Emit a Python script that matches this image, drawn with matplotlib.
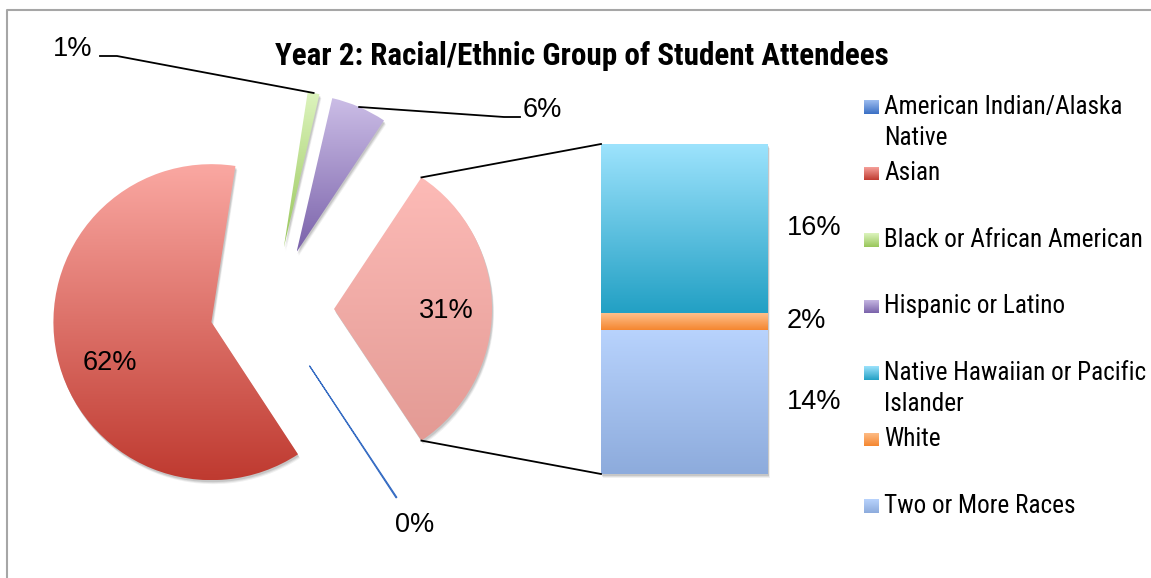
import textwrap
import numpy as np
import matplotlib
matplotlib.use("Agg")
import matplotlib.pyplot as plt
from matplotlib.patches import Wedge, Rectangle

# ---------------- data ----------------
title = "Year 2: Racial/Ethnic Group of Student Attendees"
pie_categories = ["American Indian/Alaska Native", "Asian",
                  "Black or African American", "Hispanic or Latino", "Other"]
bar_categories = ["Native Hawaiian or Pacific Islander", "White", "Two or More Races"]
bar_values = [16.0, 1.6, 13.7]                 # percent of all attendees
pie_values = [0.1, 61.6, 1.2, 5.7, sum(bar_values)]
legend_categories = pie_categories[:4] + bar_categories

# gradient colours (top, bottom)
colors = {
    "American Indian/Alaska Native": ("#9DBDF0", "#3A6FC4"),
    "Asian": ("#FAA8A2", "#BF3A30"),
    "Black or African American": ("#DDF4BE", "#98C65A"),
    "Hispanic or Latino": ("#CBBDE6", "#7A62AA"),
    "Other": ("#FDBBB7", "#E39A94"),
    "Native Hawaiian or Pacific Islander": ("#9DE3FD", "#22A0C4"),
    "White": ("#FEC08C", "#F5862F"),
    "Two or More Races": ("#B8D3FD", "#8DABDC"),
}

W, H = 1151, 578
DPI = 100
FONT = ["Liberation Sans", "DejaVu Sans"]
NARROW = ["Roboto Condensed", "Liberation Sans", "DejaVu Sans"]


def Y(y):
    return H - y


fig = plt.figure(figsize=(W / DPI, H / DPI), dpi=DPI)
ax = fig.add_axes([0, 0, 1, 1])


def set_lims():
    ax.set_xlim(0, W)
    ax.set_ylim(0, H)
    ax.set_aspect("equal")
    ax.axis("off")


def grad_fill(patch, ctop, cbot, z):
    patch.set_facecolor("none")
    path = patch.get_path().transformed(patch.get_patch_transform())
    bb = path.get_extents()
    t = np.linspace(0, 1, 256)[:, None, None]
    c1 = np.array(matplotlib.colors.to_rgb(ctop))[None, None, :]
    c2 = np.array(matplotlib.colors.to_rgb(cbot))[None, None, :]
    img = c1 * (1 - t) + c2 * t
    im = ax.imshow(img, extent=(bb.x0, bb.x1, bb.y0, bb.y1), origin="upper",
                   aspect="auto", zorder=z, interpolation="bilinear")
    im.set_clip_path(patch)
    return im


def shadow(patch_factory, z):
    for k, a in [(4, 0.06), (3, 0.08), (2, 0.10)]:
        p = patch_factory(k)
        p.set_facecolor("#000000")
        p.set_alpha(a)
        p.set_linewidth(0)
        p.set_zorder(z)
        ax.add_patch(p)


# ---------------- pie ----------------
cx, cy, R = 272, Y(309), 158
explode = [68, 62, 62, 62, 62]
other_frac = pie_values[-1] / sum(pie_values)
wedges, _ = ax.pie(pie_values, center=(cx, cy), radius=R,
                   startangle=-other_frac * 180, counterclock=False,
                   explode=explode, wedgeprops=dict(linewidth=0))
set_lims()

for w, cat in zip(wedges, pie_categories):
    ctop, cbot = colors[cat]
    if cat == pie_categories[0]:
        w.set_facecolor(cbot)
        w.set_edgecolor(cbot)
        w.set_linewidth(0.8)
        w.set_zorder(3)
        continue
    wc, th1, th2 = w.center, w.theta1, w.theta2
    shadow(lambda k, wc=wc, th1=th1, th2=th2:
           Wedge((wc[0] + k * 0.5, wc[1] - k), R, th1, th2), 1)
    w.set_zorder(2)
    grad_fill(w, ctop, cbot, 2)


def pct(v):
    return f"{round(v):.0f}%"


lab_fs = 19.5
# big slices: labels inside (angle tweak in degrees, distance as fraction of R)
inside_tweak = {1: (9.5, 0.69), 4: (-1.0, 0.71)}
for idx, (w, v) in enumerate(zip(wedges, pie_values)):
    if idx in inside_tweak:
        dang, dist = inside_tweak[idx]
        tm = np.deg2rad((w.theta1 + w.theta2) / 2 + dang)
        x = w.center[0] + dist * R * np.cos(tm)
        y = w.center[1] + dist * R * np.sin(tm)
        ax.text(x, y, pct(v), ha="center", va="center", fontsize=lab_fs,
                family=FONT, zorder=5)


def arc_mid(w):
    tm = np.deg2rad((w.theta1 + w.theta2) / 2)
    return (w.center[0] + R * np.cos(tm), w.center[1] + R * np.sin(tm))


# Black (1%) with leader line to left
bx, by = arc_mid(wedges[2])
ax.plot([bx, 117, 100], [by, Y(56), Y(56)], color="black", lw=1.3, zorder=4)
ax.text(92, Y(49), pct(pie_values[2]), ha="right", va="center",
        fontsize=lab_fs, family=FONT)
# Hispanic (6%) with leader line to right
hx, hy = arc_mid(wedges[3])
ax.plot([hx, 504, 520], [hy, Y(117), Y(117)], color="black", lw=1.3, zorder=4)
ax.text(523, Y(110), pct(pie_values[3]), ha="left", va="center",
        fontsize=lab_fs, family=FONT)
# American Indian (0%)
ax.text(415, Y(525), pct(pie_values[0]), ha="center", va="center",
        fontsize=lab_fs, family=FONT)

# ---------------- bar of pie ----------------
bar_x0, bar_x1 = 601, 768
bar_bottom_px, bar_top_px = 474, 144
scale = (bar_bottom_px - bar_top_px) / sum(bar_values)
order = [2, 1, 0]  # stack from bottom: Two or More, White, Hawaiian
bottom = Y(bar_bottom_px)
for i in order:
    cat, v = bar_categories[i], bar_values[i]
    h = v * scale
    bars = ax.bar((bar_x0 + bar_x1) / 2, h, width=bar_x1 - bar_x0, bottom=bottom,
                  linewidth=0, zorder=2)
    b = bars[0]
    grad_fill(b, *colors[cat], 2)
    ax.text(787, bottom + h / 2, pct(v), ha="left", va="center",
            fontsize=lab_fs, family=FONT)
    bottom += h
shadow(lambda k: Rectangle((bar_x0 + k * 0.5, Y(bar_bottom_px) - k),
                           bar_x1 - bar_x0, bottom - Y(bar_bottom_px)), 1)

# connector lines from "Other" slice to bar
wo = wedges[-1]
for ang, ytarget in [(wo.theta2, bottom), (wo.theta1, Y(bar_bottom_px))]:
    a = np.deg2rad(ang)
    px = wo.center[0] + R * np.cos(a)
    py = wo.center[1] + R * np.sin(a)
    ax.plot([px, bar_x0], [py, ytarget], color="black", lw=1.3, zorder=4)

set_lims()

# ---------------- title ----------------
ax.text(582, Y(56), title, ha="center", va="center", fontsize=22.4,
        fontweight="bold", family=NARROW)

# ---------------- legend ----------------
leg_y0, leg_dy = 107, 66.5
for k, cat in enumerate(legend_categories):
    yc = Y(leg_y0 + k * leg_dy)
    sq = Rectangle((864, yc - 7), 15, 14, linewidth=0, zorder=2)
    ax.add_patch(sq)
    grad_fill(sq, *colors[cat], 2)
    for j, line in enumerate(textwrap.wrap(cat, 26)):
        ax.text(884, yc - j * 31, line, ha="left", va="center", fontsize=18.2,
                family=NARROW)

# chart border (left and top edges visible)
ax.plot([7, 7, W], [0, Y(10), Y(10)], color="#A6A6A6", lw=1.5, zorder=6)

set_lims()
fig.savefig("out.png", dpi=DPI)
